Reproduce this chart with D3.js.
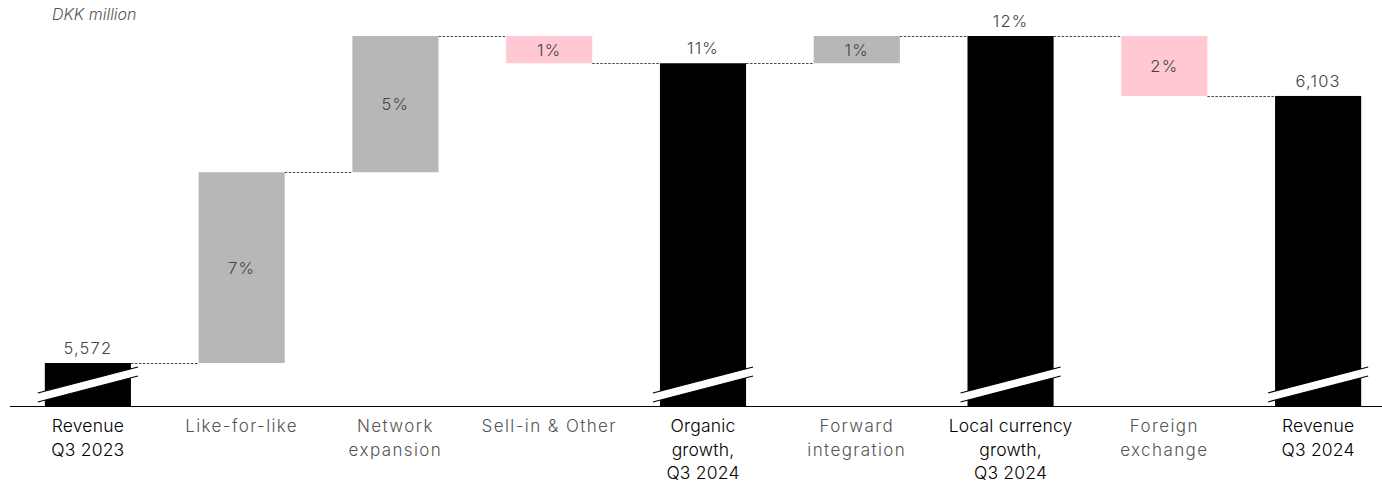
<!DOCTYPE html>
<html>
<head>
<meta charset="utf-8">
<script src="https://cdn.jsdelivr.net/npm/d3@7"></script>
<style>
  html, body { margin: 0; padding: 0; background: #fff; }
  svg { display: block; font-family: "Inter", "Open Sans", sans-serif; }
</style>
</head>
<body>
<svg id="chart" width="1382" height="484"></svg>
<script>
// ---- data ----
const categories = [
  ["Revenue", "Q3 2023"],
  ["Like-for-like"],
  ["Network", "expansion"],
  ["Sell-in & Other"],
  ["Organic", "growth,", "Q3 2024"],
  ["Forward", "integration"],
  ["Local currency", "growth,", "Q3 2024"],
  ["Foreign", "exchange"],
  ["Revenue", "Q3 2024"]
];
const kinds = ["total", "delta", "delta", "delta", "total", "delta", "total", "delta", "total"];
// growth contribution in % (deltas); totals are cumulative
const deltas = [0, 7.0, 5.0, -1.0, 0, 1.0, 0, -2.2, 0];
const valueLabels = ["5,572", "7%", "5%", "1%", "11%", "1%", "12%", "2%", "6,103"];
const unitLabel = "DKK million";

// ---- layout ----
const W = 1382, H = 484;
const baseY = 406;
const svg = d3.select("#chart");

const x = d3.scaleBand().domain(d3.range(categories.length)).range([11, 1395]).paddingInner(0.44).paddingOuter(0.22);
const y = d3.scaleLinear().domain([0, 12]).range([363, 36]);

let cum = 0;
const bars = kinds.map((k, i) => {
  if (k === "total") {
    return { i, kind: k, start: null, end: cum };
  } else {
    const s = cum; cum += deltas[i];
    return { i, kind: k, start: s, end: cum };
  }
});

const colorFor = d => d.kind === "total" ? "#000" : (deltas[d.i] < 0 ? "#ffc8d2" : "#b7b7b8");

// connectors
for (let j = 0; j < bars.length - 1; j++) {
  const lvl = bars[j].end;
  svg.append("line")
    .attr("x1", x(j) + x.bandwidth()).attr("x2", x(j + 1))
    .attr("y1", Math.round(y(lvl)) + 0.5).attr("y2", Math.round(y(lvl)) + 0.5)
    .attr("stroke", "#333").attr("stroke-width", 0.9)
    .attr("stroke-dasharray", "2.5,1.5");
}

// bars
svg.selectAll("rect.bar").data(bars).join("rect")
  .attr("class", "bar")
  .attr("x", d => x(d.i))
  .attr("width", x.bandwidth())
  .attr("y", d => d.kind === "total" ? y(d.end) : y(Math.max(d.start, d.end)))
  .attr("height", d => d.kind === "total" ? baseY - y(d.end) : Math.abs(y(d.start) - y(d.end)))
  .attr("fill", colorFor);

// break marks on totals
bars.filter(d => d.kind === "total").forEach(d => {
  const x0 = x(d.i) - 7, x1 = x(d.i) + x.bandwidth() + 7;
  const g = svg.append("g");
  g.append("polygon")
    .attr("points", [[x0, baseY - 13], [x1, baseY - 39], [x1, baseY - 30], [x0, baseY - 4]].map(p => p.join(",")).join(" "))
    .attr("fill", "#fff");
  g.append("line").attr("x1", x0).attr("y1", baseY - 13).attr("x2", x1).attr("y2", baseY - 39)
    .attr("stroke", "#000").attr("stroke-width", 1.2);
  g.append("line").attr("x1", x0).attr("y1", baseY - 4).attr("x2", x1).attr("y2", baseY - 30)
    .attr("stroke", "#000").attr("stroke-width", 1.2);
});

// baseline axis
svg.append("line").attr("x1", 10).attr("x2", W).attr("y1", baseY + 0.5).attr("y2", baseY + 0.5)
  .attr("stroke", "#000").attr("stroke-width", 1.2);

// value labels
svg.selectAll("text.val").data(bars).join("text")
  .attr("class", "val")
  .attr("x", d => x(d.i) + x.bandwidth() / 2)
  .attr("y", d => d.kind === "total" ? y(d.end) - 9 : (y(d.start) + y(d.end)) / 2 + 6)
  .attr("text-anchor", "middle")
  .attr("font-size", 16.5)
  .attr("font-weight", 300)
  .attr("letter-spacing", 1.2)
  .attr("fill", "#444")
  .text(d => valueLabels[d.i]);

// category labels
categories.forEach((lines, i) => {
  const isTotal = kinds[i] === "total";
  const t = svg.append("text")
    .attr("x", x(i) + x.bandwidth() / 2)
    .attr("y", 432)
    .attr("text-anchor", "middle")
    .attr("font-size", isTotal ? 17.5 : 17)
    .attr("font-weight", isTotal ? 340 : 280)
    .attr("letter-spacing", isTotal ? 0.2 : 1.4)
    .attr("fill", isTotal ? "#000" : "#555");
  lines.forEach((ln, k) => {
    t.append("tspan").attr("x", x(i) + x.bandwidth() / 2).attr("dy", k === 0 ? 0 : 23.5).text(ln);
  });
});

// unit label
svg.append("text").attr("x", 52).attr("y", 20)
  .attr("font-size", 16).attr("font-style", "italic").attr("font-weight", 300)
  .attr("fill", "#555").text(unitLabel);
</script>
</body>
</html>
